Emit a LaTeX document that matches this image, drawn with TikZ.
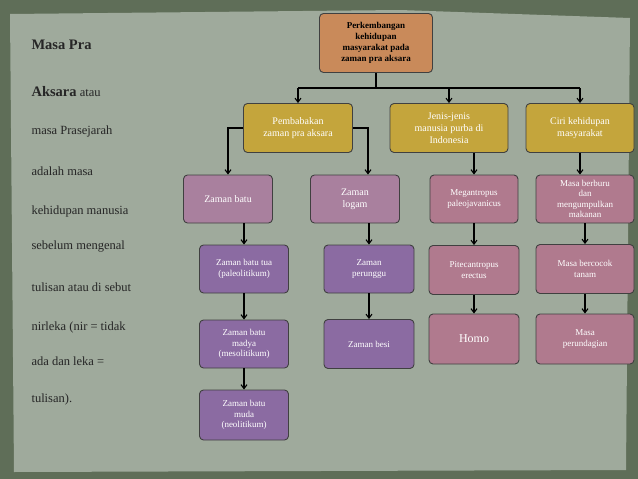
\documentclass[tikz,border=0pt]{standalone}
\usepackage{fontspec}
\setmainfont{Liberation Serif}
\usetikzlibrary{arrows.meta}
\definecolor{bgout}{HTML}{5F6E58}
\definecolor{paper}{HTML}{9FAA9C}
\definecolor{orng}{HTML}{C98A5A}
\definecolor{yell}{HTML}{C4A53C}
\definecolor{pinkp}{HTML}{A9809E}
\definecolor{pinkr}{HTML}{B07A8E}
\definecolor{purp}{HTML}{8B6BA2}
\tikzset{
 box/.style={draw=black!75,line width=0.9pt,rounded corners=4pt,align=center,inner sep=1pt,font=\fontsize{9}{10.5}\selectfont,text=white},
 arr/.style={-{Straight Barb[length=4pt,width=6pt]},line width=1.1pt},
 lt/.style={anchor=west,font=\fontsize{12.5}{14}\selectfont,text=black!85}
}
\begin{document}
\begin{tikzpicture}[x=1pt,y=-1pt]
\useasboundingbox (0,0) rectangle (638,479);
\fill[bgout] (0,0) rectangle (638,479);
\fill[paper] (10,14) -- (400,10) -- (630,18) -- (626,470) -- (14,472) -- cycle;
\node[box,fill=orng,text=black,font=\bfseries\fontsize{9}{11}\selectfont,minimum width=113pt,minimum height=59pt] (top) at (376,43) {Perkembangan\\kehidupan\\masyarakat pada\\zaman pra aksara};
\foreach \n/\x/\w/\t in {p/298/109/{Pembabakan\\zaman pra aksara},j/449/118/{Jenis-jenis\\manusia purba di\\Indonesia},c/580/108/{Ciri kehidupan\\masyarakat}}
  \node[box,fill=yell,minimum width=\w pt,minimum height=49pt,font=\fontsize{10}{12}\selectfont] (\n) at (\x,128) {\t};
\node[box,fill=pinkp,minimum width=89pt,minimum height=48pt,font=\fontsize{10}{12}\selectfont] (zb) at (228,199) {Zaman batu};
\node[box,fill=pinkp,minimum width=89pt,minimum height=48pt,font=\fontsize{10}{12}\selectfont] (zl) at (355,199) {Zaman\\logam};
\node[box,fill=pinkr,minimum width=88pt,minimum height=48pt] (me) at (474,199) {Megantropus\\paleojavanicus};
\node[box,fill=pinkr,minimum width=98pt,minimum height=48pt] (mb) at (585,199) {Masa berburu\\dan\\mengumpulkan\\makanan};
\node[box,fill=purp,minimum width=89pt,minimum height=48pt] (bt) at (244,269) {Zaman batu tua\\(paleolitikum)};
\node[box,fill=purp,minimum width=90pt,minimum height=48pt] (zp) at (369,269) {Zaman\\perunggu};
\node[box,fill=pinkr,minimum width=90pt,minimum height=49pt] (pi) at (474,270) {Pitecantropus\\erectus};
\node[box,fill=pinkr,minimum width=98pt,minimum height=49pt] (mc) at (585,269) {Masa bercocok\\tanam};
\node[box,fill=purp,minimum width=89pt,minimum height=48pt] (bm) at (244,344) {Zaman batu\\madya\\(mesolitikum)};
\node[box,fill=purp,minimum width=90pt,minimum height=49pt] (zs) at (369,344) {Zaman besi};
\node[box,fill=pinkr,minimum width=90pt,minimum height=50pt,font=\fontsize{12}{14}\selectfont] (ho) at (474,339) {Homo};
\node[box,fill=pinkr,minimum width=98pt,minimum height=50pt] (mp) at (585,339) {Masa\\perundagian};
\node[box,fill=purp,minimum width=89pt,minimum height=50pt] (mu) at (244,415) {Zaman batu\\muda\\(neolitikum)};
\coordinate (bus) at (376,88);
\draw[line width=1.1pt] (top.south) -- (bus) (298,88) -- (580,88);
\draw[arr] (298,88) -- (p.north);
\draw[arr] (449,88) -- (j.north);
\draw[arr] (580,88) -- (c.north);
\draw[arr] (p.west) -| (zb.north);
\draw[arr] (p.east) -| ([xshift=13pt]zl.north);
\draw[arr] (me.north |- j.south) -- (me.north);
\draw[arr] (c.south) -- (c.south |- mb.north);
\draw[arr] (zb.south -| bt.north) -- (bt.north);
\draw[arr] (zl.south -| zp.north) -- (zp.north);
\draw[arr] (me) -- (pi);
\draw[arr] (mb) -- (mc);
\draw[arr] (bt) -- (bm);
\draw[arr] (zp) -- (zs);
\draw[arr] (pi) -- (ho);
\draw[arr] (mc) -- (mp);
\draw[arr] (bm) -- (mu);
\node[lt,font=\bfseries\fontsize{14.5}{16}\selectfont] (t1) at (28,45) {Masa Pra};
\node[lt] (t2) at (28,92) {\textbf{\fontsize{14.5}{16}\selectfont Aksara} atau};
\node[lt] (t3) at (28,131) {masa Prasejarah};
\node[lt] (t4) at (28,171) {adalah masa};
\node[lt] (t5) at (28,211) {kehidupan manusia};
\node[lt] (t6) at (28,247) {sebelum mengenal};
\node[lt] (t7) at (28,287) {tulisan atau di sebut};
\node[lt] (t8) at (28,327) {nirleka (nir = tidak};
\node[lt] (t9) at (28,361) {ada dan leka =};
\node[lt] (t10) at (28,399) {tulisan).};
\end{tikzpicture}
\end{document}
